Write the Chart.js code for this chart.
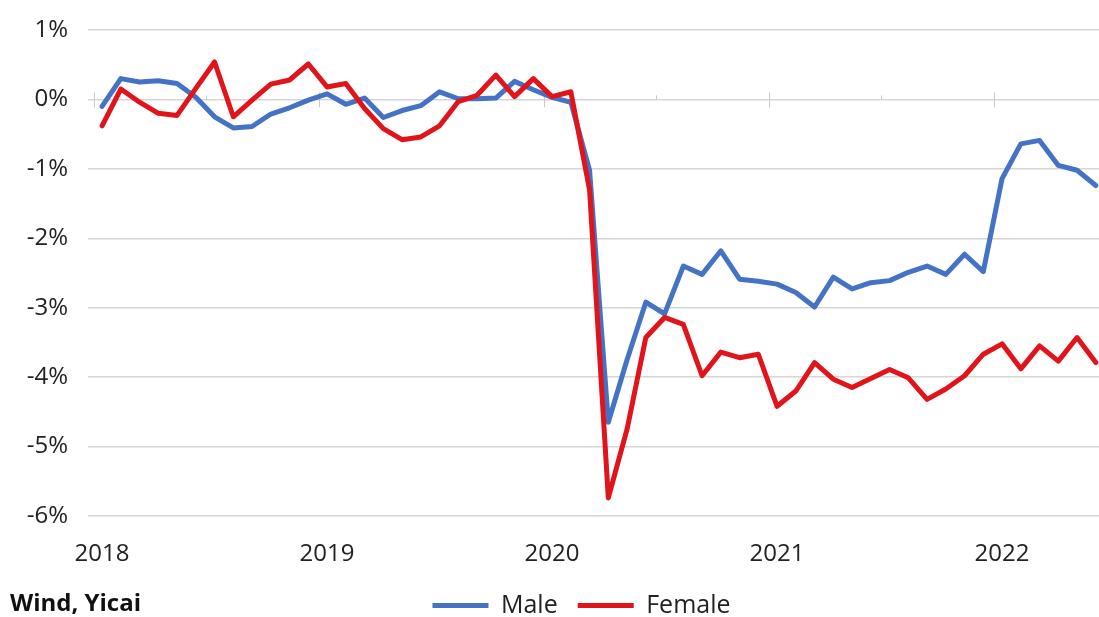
<!DOCTYPE html>
<html>
<head>
<meta charset="utf-8">
<script src="https://cdn.jsdelivr.net/npm/chart.js@4.4.1/dist/chart.umd.min.js"></script>
<style>
  html, body { margin: 0; padding: 0; background: #fff; overflow: hidden; }
  #wrap { position: relative; width: 1099px; height: 617px; }
  #source { position: absolute; left: 10px; top: 585px; font: bold 24px 'Open Sans', sans-serif; color: #111; }
</style>
</head>
<body>
<div id="wrap">
  <canvas id="chart" width="1099" height="617"></canvas>
  <div id="source">Wind, Yicai</div>
</div>
<script>
// monthly, Jan 2018 .. Jun 2022 (% change)
const yearLabels = ['2018', '2019', '2020', '2021', '2022']
const male = [
  -0.10, 0.30, 0.25, 0.27, 0.23, 0.03, -0.25, -0.41, -0.39, -0.21, -0.12, -0.01,
  0.08, -0.07, 0.02, -0.26, -0.16, -0.09, 0.11, 0.01, 0.01, 0.02, 0.26, 0.14,
  0.03, -0.04, -1.02, -4.65, -3.75, -2.92, -3.09, -2.40, -2.52, -2.18, -2.59, -2.62,
  -2.66, -2.78, -2.99, -2.56, -2.73, -2.64, -2.61, -2.49, -2.40, -2.52, -2.23, -2.48,
  -1.14, -0.64, -0.59, -0.95, -1.02, -1.24
]
const female = [
  -0.38, 0.15, -0.04, -0.20, -0.23, 0.16, 0.54, -0.25, -0.01, 0.22, 0.28, 0.51,
  0.18, 0.23, -0.13, -0.42, -0.58, -0.54, -0.38, -0.03, 0.06, 0.35, 0.04, 0.30,
  0.04, 0.11, -1.30, -5.74, -4.75, -3.43, -3.14, -3.24, -3.98, -3.64, -3.72, -3.67,
  -4.42, -4.20, -3.79, -4.03, -4.15, -4.02, -3.89, -4.01, -4.32, -4.17, -3.98, -3.67,
  -3.52, -3.88, -3.55, -3.77, -3.43, -3.79
]

const FONT = "'Open Sans', sans-serif"

function toPoints(arr) {
  return arr.map((v, i) => ({ x: i, y: v }))
}

// small tick marks on the 0% line, like the excel axis
const zeroTicks = {
  id: 'zeroTicks',
  afterLayout(chart) {
    // legend sits a bit left of centre in the original
    chart.legend.left -= 12
    chart.legend.right -= 12
  },
  beforeDatasetsDraw(chart) {
    const { ctx, scales } = chart
    const y0 = scales.y.getPixelForValue(0)
    ctx.save()
    ctx.strokeStyle = '#c8c8c8'
    ctx.lineWidth = 1
    for (let m = 0; m <= 54; m += 6) {
      const x = Math.round(scales.x.getPixelForValue(m - 0.45)) + 0.5
      if (x > chart.chartArea.right) break
      ctx.beginPath()
      if (m % 12 === 0) {
        ctx.moveTo(x, y0 - 7)
        ctx.lineTo(x, y0 + 8)
      } else {
        ctx.moveTo(x, y0 - 4)
        ctx.lineTo(x, y0)
      }
      ctx.stroke()
    }
    ctx.restore()
  }
}

new Chart(document.getElementById('chart'), {
  type: 'line',
  data: {
    datasets: [{
      label: 'Male',
      data: toPoints(male),
      borderColor: '#4472c4',
      backgroundColor: '#4472c4',
      borderWidth: 5,
      order: 1
    }, {
      label: 'Female',
      data: toPoints(female),
      borderColor: '#e0141a',
      backgroundColor: '#e0141a',
      borderWidth: 5,
      order: 0
    }]
  },
  options: {
    responsive: false,
    animation: false,
    layout: { autoPadding: false, padding: { top: 30, right: 0, bottom: -11, left: 0 } },
    elements: {
      point: { radius: 0 },
      line: { tension: 0, borderJoinStyle: 'round', borderCapStyle: 'round' }
    },
    scales: {
      x: {
        type: 'linear',
        min: -0.75,
        max: 53.17,
        grid: { display: false },
        border: { display: false },
        afterBuildTicks(s) {
          s.ticks = yearLabels.map((_, i) => ({ value: i * 12 }))
        },
        afterFit(s) { s.height = 57 },
        ticks: {
          autoSkip: false,
          maxRotation: 0,
          padding: 16,
          color: '#222',
          font: { family: FONT, size: 24 },
          callback: v => yearLabels[v / 12]
        }
      },
      y: {
        min: -6,
        max: 1,
        afterFit(s) {
          s.width = 88
          s.paddingTop = 0
          s.paddingBottom = 0
        },
        grid: { color: '#d6d6d6', lineWidth: 1.5, drawTicks: false },
        border: { display: false },
        ticks: {
          stepSize: 1,
          padding: 20,
          color: '#222',
          font: { family: FONT, size: 24 },
          callback: v => v + '%'
        }
      }
    },
    plugins: {
      tooltip: { enabled: false },
      legend: {
        position: 'bottom',
        fullSize: false,
        labels: {
          usePointStyle: true,
          pointStyle: 'line',
          pointStyleWidth: 56,
          boxHeight: 20,
          padding: 20,
          color: '#222',
          font: { family: FONT, size: 25 },
          sort: (a, b) => a.datasetIndex - b.datasetIndex
        }
      }
    }
  },
  plugins: [zeroTicks]
})
</script>
</body>
</html>
